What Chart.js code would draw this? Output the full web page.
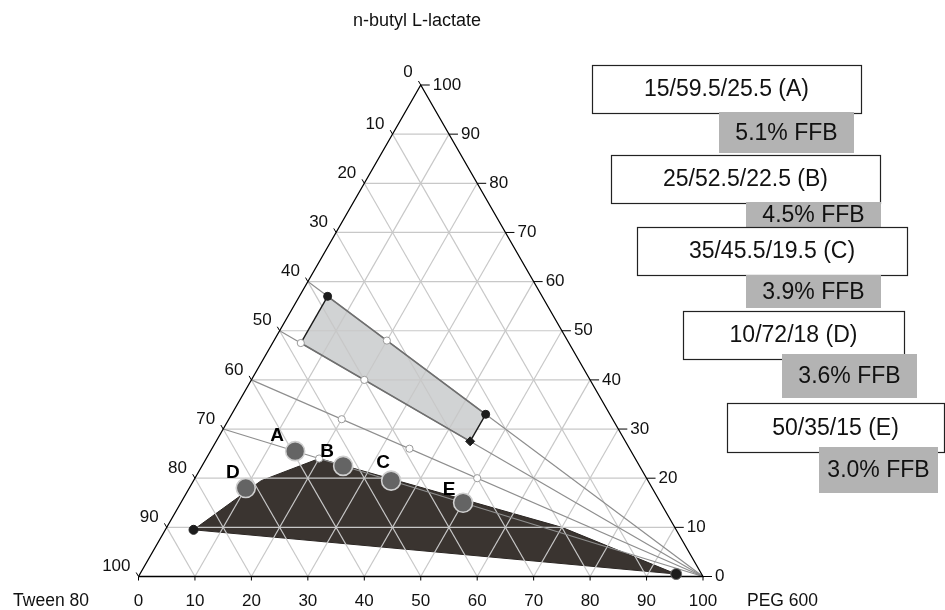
<!DOCTYPE html>
<html>
<head>
<meta charset="utf-8">
<script src="https://cdn.jsdelivr.net/npm/chart.js@4.4.1/dist/chart.umd.min.js"></script>
<style>
  html, body { margin: 0; padding: 0; background: #ffffff; }
  #wrap { position: relative; width: 945px; height: 610px; }
</style>
</head>
<body>
<div id="wrap"><canvas id="chart"></canvas></div>
<script>
// ---- Ternary data (all values in %, order PEG 600 / Tween 80 / n-butyl L-lactate) ----
const axisTicks = [0, 10, 20, 30, 40, 50, 60, 70, 80, 90, 100];

// Formulations A–E
const pointNames = ['A', 'B', 'C', 'D', 'E'];
const pointPeg = [15, 25, 35, 10, 50];
const pointTween = [59.5, 52.5, 45.5, 72, 35];
const pointLactate = [25.5, 22.5, 19.5, 18, 15];
const pointFfb = [5.1, 4.5, 3.9, 3.6, 3.0];

// Dilution lines: start on the Tween/lactate edge, run to the PEG 600 corner
const dilutionTween = [40, 50, 60, 70];

// Clear (light) region corners
const clearPeg = [5, 45, 45, 5];
const clearTween = [38, 22, 27.5, 47.5];
const clearLactate = [57, 33, 27.5, 47.5];

// Dark region boundary
const darkPeg = [5, 12, 20, 70, 95];
const darkTween = [85.5, 68.5, 56, 20, 4.5];
const darkLactate = [9.5, 19.5, 24, 10, 0.5];

// Open markers on the dilution lines
const openPeg = [5, 20, 20, 20, 35, 50, 20];
const openTween = [47.5, 32, 40, 48, 39, 30, 56];
const openLactate = [47.5, 48, 40, 32, 26, 20, 24];

// Solid markers at the region ends
const solidPeg = [5, 45, 5, 95];
const solidLactate = [57, 33, 9.5, 0.5];
const diamondPeg = [45];
const diamondLactate = [27.5];

// ---- helpers ----
const AXIS_TITLES = { top: 'n-butyl L-lactate', left: 'Tween 80', right: 'PEG 600' };
const FONT = '"Liberation Sans", Arial, Helvetica, sans-serif';

// Ternary (PEG, lactate) -> plane coordinates
function tern(peg, lac) { return { x: peg + lac / 2, y: lac }; }

const datasets = [];

// Triangular grid
axisTicks.filter(k => k > 0 && k < 100).forEach(k => {
  const lines = [
    [tern(0, k), tern(100 - k, k)],          // constant lactate
    [tern(k, 0), tern(k, 100 - k)],          // constant PEG
    [tern(100 - k, 0), tern(0, 100 - k)]     // constant Tween
  ];
  lines.forEach(seg => datasets.push({
    data: seg, borderColor: '#c8c8c8', borderWidth: 1.2,
    pointRadius: 0, fill: false, order: 8
  }));
});

// Triangle outline
datasets.push({
  data: [tern(0, 0), tern(100, 0), tern(0, 100), tern(0, 0)],
  borderColor: '#000000', borderWidth: 1.3, pointRadius: 0, fill: false, order: 5
});

// Dilution lines
dilutionTween.forEach(t => datasets.push({
  data: [tern(0, 100 - t), tern(100, 0)],
  borderColor: '#8e8e8e', borderWidth: 1.2, pointRadius: 0, fill: false, order: 6
}));

// Clear region fill
const clearPts = clearPeg.map((p, i) => tern(p, clearLactate[i]));
datasets.push({
  data: clearPts.concat([clearPts[0]]),
  borderWidth: 0, borderColor: 'rgba(0,0,0,0)', backgroundColor: '#d1d3d4',
  fill: 'shape', pointRadius: 0, order: 10
});
// Clear region edges
datasets.push({ data: [clearPts[0], clearPts[1]], borderColor: '#6f6f6f', borderWidth: 1.6, pointRadius: 0, fill: false, order: 4 });
datasets.push({ data: [clearPts[3], clearPts[2]], borderColor: '#6f6f6f', borderWidth: 1.6, pointRadius: 0, fill: false, order: 4 });
datasets.push({ data: [clearPts[0], clearPts[3]], borderColor: '#1a1a1a', borderWidth: 1.4, pointRadius: 0, fill: false, order: 4 });
datasets.push({ data: [clearPts[1], clearPts[2]], borderColor: '#1a1a1a', borderWidth: 1.4, pointRadius: 0, fill: false, order: 4 });

// Dark region
const darkPts = darkPeg.map((p, i) => tern(p, darkLactate[i]));
datasets.push({
  data: darkPts.concat([darkPts[0]]),
  borderColor: '#2b2623', borderWidth: 1, backgroundColor: '#3a3430',
  fill: 'shape', pointRadius: 0, order: 11
});

// Open markers
datasets.push({
  data: openPeg.map((p, i) => tern(p, openLactate[i])),
  showLine: false, pointRadius: 3.6, pointBackgroundColor: '#ffffff',
  pointBorderColor: '#9a9a9a', pointBorderWidth: 1, order: 3
});

// Solid markers
datasets.push({
  data: solidPeg.map((p, i) => tern(p, solidLactate[i])),
  showLine: false, pointRadius: [4, 4, 4.5, 5.5], pointBackgroundColor: '#1c1c1c',
  pointBorderColor: ['#1c1c1c', '#1c1c1c', '#1c1c1c', '#6a6a6a'], pointBorderWidth: 1, order: 2
});
datasets.push({
  data: diamondPeg.map((p, i) => tern(p, diamondLactate[i])),
  showLine: false, pointStyle: 'rectRot', pointRadius: 4.5, pointBackgroundColor: '#1c1c1c',
  pointBorderColor: '#1c1c1c', pointBorderWidth: 1, order: 2
});

// Formulations A–E
const formulationIndex = datasets.length;
datasets.push({
  data: pointPeg.map((p, i) => tern(p, pointLactate[i])),
  showLine: false, pointRadius: 9.5, pointBackgroundColor: '#646464',
  pointBorderColor: '#cfcfcf', pointBorderWidth: 1.6, order: 0
});

// Scale layout: triangle base y=576.5, x from 138.5 to 703 (px)
const PX_X = 5.645, PX_Y = 4.915, X0 = 138.5, Y0 = 576.5;
const W = 945, H = 610;

// Text boxes (px) for each formulation: composition box and FFB box
const boxLayout = [
  { comp: [592, 65, 269, 48], ffb: [719, 112, 135, 41] },
  { comp: [611, 155, 269, 48], ffb: [746, 202, 135, 26] },
  { comp: [637, 227, 270, 48], ffb: [746, 275, 135, 33] },
  { comp: [683, 311, 221, 48], ffb: [782, 354, 135, 44] },
  { comp: [727, 403, 217, 49], ffb: [819, 447, 119, 46] }
];
const labelOffset = [[-18, -15], [-16, -14], [-8, -18], [-13, -15], [-14, -13]];

const decorations = {
  id: 'ternaryText',
  afterDatasetsDraw(chart) {
    const ctx = chart.ctx;
    const xs = chart.scales.x, ys = chart.scales.y;
    const P = (peg, lac) => {
      const t = tern(peg, lac);
      return [xs.getPixelForValue(t.x), ys.getPixelForValue(t.y)];
    };
    ctx.save();
    ctx.fillStyle = '#111';
    ctx.strokeStyle = '#000';
    ctx.lineWidth = 1;
    ctx.font = '17px ' + FONT;
    ctx.textBaseline = 'middle';

    axisTicks.forEach(v => {
      // bottom edge: PEG 600
      let [x, y] = P(v, 0);
      ctx.beginPath(); ctx.moveTo(x, y); ctx.lineTo(x, y + 4); ctx.stroke();
      ctx.textAlign = 'center';
      ctx.fillText(String(v), x, y + 25);
      // right edge: lactate
      [x, y] = P(100 - v, v);
      ctx.beginPath(); ctx.moveTo(x, y); ctx.lineTo(x + 9, y); ctx.stroke();
      ctx.textAlign = 'left';
      ctx.fillText(String(v), x + 12, y);
      // left edge: Tween 80
      [x, y] = P(0, 100 - v);
      ctx.beginPath(); ctx.moveTo(x, y); ctx.lineTo(x - 2.3, y - 4); ctx.stroke();
      ctx.textAlign = 'right';
      ctx.fillText(String(v), x - 8, y - (v === 0 ? 13 : 10));
    });

    // axis titles
    ctx.font = '18px ' + FONT;
    ctx.textAlign = 'center';
    ctx.fillText(AXIS_TITLES.top, 417, 21);
    ctx.font = '17.5px ' + FONT;
    ctx.fillText(AXIS_TITLES.left, 51, 601);
    ctx.textAlign = 'left';
    ctx.fillText(AXIS_TITLES.right, 747, 601);

    // point letters
    const meta = chart.getDatasetMeta(formulationIndex);
    ctx.font = 'bold 19px ' + FONT;
    ctx.textAlign = 'center';
    ctx.fillStyle = '#000';
    meta.data.forEach((pt, i) => {
      ctx.fillText(pointNames[i], pt.x + labelOffset[i][0], pt.y + labelOffset[i][1]);
    });

    // composition / FFB boxes
    ctx.font = '23px ' + FONT;
    pointNames.forEach((n, i) => {
      const b = boxLayout[i];
      const [cx, cy, cw, ch] = b.comp;
      ctx.fillStyle = '#ffffff';
      ctx.fillRect(cx, cy, cw, ch);
      ctx.strokeStyle = '#222';
      ctx.lineWidth = 1.2;
      ctx.strokeRect(cx + 0.5, cy + 0.5, cw, ch);
      ctx.fillStyle = '#111';
      ctx.fillText(`${pointPeg[i]}/${pointTween[i]}/${pointLactate[i]} (${n})`, cx + cw / 2, cy + ch / 2 + 1);
      const [fx, fy, fw, fh] = b.ffb;
      ctx.fillStyle = '#b3b3b3';
      ctx.fillRect(fx, fy, fw, fh);
      ctx.fillStyle = '#111';
      ctx.fillText(`${pointFfb[i].toFixed(1)}% FFB`, fx + fw / 2, fy + fh / 2 + 1);
    });
    ctx.restore();
  }
};

new Chart(document.getElementById('chart'), {
  type: 'line',
  data: { datasets },
  options: {
    responsive: true,
    maintainAspectRatio: false,
    animation: false,
    events: [],
    layout: { padding: 0, autoPadding: false },
    plugins: { legend: { display: false }, tooltip: { enabled: false } },
    elements: { line: { tension: 0 } },
    scales: {
      x: { type: 'linear', display: false, min: -X0 / PX_X, max: (W - X0) / PX_X },
      y: { type: 'linear', display: false, min: -(H - Y0) / PX_Y, max: Y0 / PX_Y }
    }
  },
  plugins: [decorations]
});
</script>
</body>
</html>
